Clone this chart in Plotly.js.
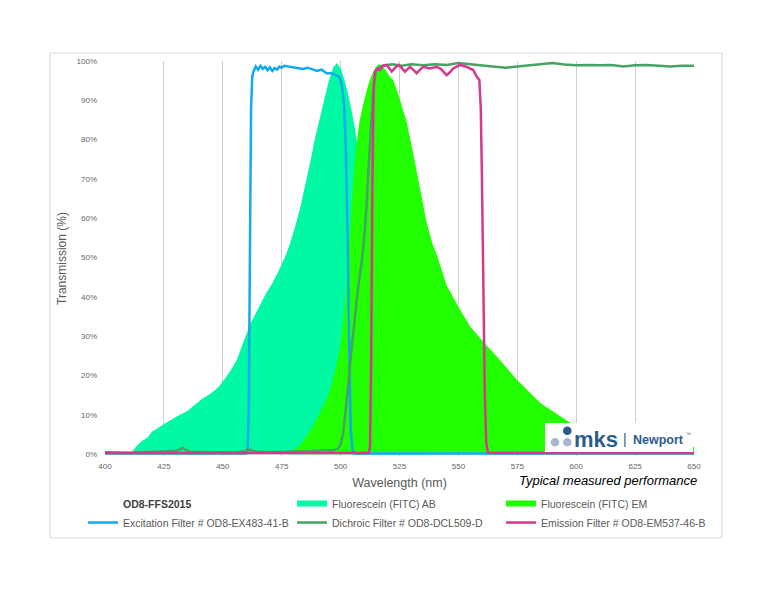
<!DOCTYPE html>
<html><head><meta charset="utf-8">
<script src="https://cdn.plot.ly/plotly-3.0.1.min.js"></script>
<style>html,body{margin:0;padding:0;background:#fff}#chart{width:776px;height:600px}</style>
</head><body><div id="chart"></div>
<script>
// ---- data (wavelength in nm, transmission in %) ----
const abNm  = [400,411,412,414,416,418,420,422,425,428,431,435,438,441,445,448,450,453,456,459,462,465,468,471,474,477,479,481,483,485,487,489,491,493,495,497,498.5,500,501.5,503,504.5,506,507.5,509,511,513,516,520,525,530,535,650];
const abPct = [0,0,1,2.5,3.5,4.2,5.8,6.5,7.7,8.7,9.8,11,12.5,14,15.5,17,18.5,21,24,29,33.5,37,40.5,43.5,47,51,54.5,58.5,63,68.5,74,80,85,90,95,98.5,99.5,98,95.5,92,88,83,77,65,48,33,17,6,1.5,0.3,0,0];

const emNm  = [400,478,480,483,486,489,491,494,496,498,500,502,503,504,505,506,507,508,510,512,514,516,517.5,519,521,522.5,525,528,531,533.7,536.5,539,541,545,550,555,560,567,575,585,597,600,610,620,630,640,650];
const emPct = [0,0,0.8,2.5,5,8,10.3,14,17.5,22,28,39,48,57,66,74,80,84.6,90,94.5,97.5,99.2,99,97.8,96,95,90.5,84.6,76,67.6,59,53.5,50.5,43,37.5,32.5,29,24.4,18.8,12.9,8.2,7.4,5.2,3.8,2.9,2.3,1.9];

const exNm  = [400,460,460.5,461,461.5,462,462.5,463,464,465,466,467,468,469,470,471,472,473,474,475,476,478,480,482,484,486,488,490,492,494,496,498,499.5,500.5,501.5,502.2,503,503.7,504.3,505,506,650];
const exPct = [0.2,0.2,1,10,50,88,96,97.3,98.6,97.8,98.8,98.0,98.5,97.6,98.4,97.5,98.2,97.8,98.6,98.3,98.8,98.6,98.5,98.2,98.0,98.3,97.8,97.5,97.8,96.9,96.9,96.4,96.0,94,89,78,55,25,6,1,0.2,0.2];

const dcNm  = [400,410,420,425,430,432,433,434,436,445,455,459,461,462,464,470,480,488,493,497,499,500,501,502,503,504,505,506,507,508,509,510,511,512,513,514,515,516,518,522,526,530,535,540,545,550,555,560,565,570,575,580,585,590,595,600,605,610,615,620,625,630,635,640,645,650];
const dcPct = [0.5,0.4,0.6,0.7,0.8,1.3,1.6,1.2,0.6,0.5,0.5,0.7,1.2,1.1,0.6,0.5,0.6,0.8,1.0,1.0,1.5,2.5,5,10,16,23,29,35,40,45,49,55,63,74,85,94,97.3,98.3,98.8,99.2,98.8,99.2,98.9,99.2,99.0,99.5,99.2,98.9,98.6,98.3,98.6,98.9,99.2,99.5,99.1,98.9,99.0,98.9,99.0,98.6,98.9,99.0,98.8,98.6,98.8,98.8];

const emfNm  = [400,512,512.5,513,513.5,514,514.5,515.3,516.7,518,519.6,520.7,521.7,523,524.5,526,527.3,528.5,529.5,531,532.3,533.7,535.1,538,540.8,542.5,543.6,545,546.5,547.8,550.7,553.5,556.3,557.8,558.9,559.5,560,560.6,561.2,561.8,562.5,563,650];
const emfPct = [0.3,0.3,2,25,70,92,97,98,97.7,98.8,99.0,98,97.3,98.2,99.0,98.2,97.3,98,98.5,97.7,96.9,97.8,98.5,98.1,98.5,98.0,97.3,96.4,97.2,98.1,99.0,98.5,97.7,96.0,95.2,88,70,40,15,3,0.5,0.3,0.3];

const xTicks = [400,425,450,475,500,525,550,575,600,625,650];
const yTicks = [0,10,20,30,40,50,60,70,80,90,100];
const yTickLabels = ['0%','10%','20%','30%','40%','50%','60%','70%','80%','90%','100%'];

const seriesNames = ['Fluorescein (FITC) AB','Fluorescein (FITC) EM','Excitation Filter # OD8-EX483-41-B','Dichroic Filter # OD8-DCL509-D','Emission Filter # OD8-EM537-46-B'];

// ---- geometry helpers (pixel -> paper) ----
const W=776, H=600, ML=105, MR=82, MT=61, MB=144;
const PW=W-ML-MR, PH=H-MT-MB;
const px = x => (x-ML)/PW;
const py = y => (H-MB-y)/PH;

const FONT = 'Liberation Sans, Arial, sans-serif';

const traces = [
  {x:[null], y:[null], type:'scatter', mode:'lines', line:{width:0,color:'rgba(0,0,0,0)'},
   name:'<b><span style="color:#404040">OD8-FFS2015</span></b>', hoverinfo:'skip'},
  {x:abNm, y:abPct, type:'scatter', mode:'none', fill:'tozeroy', fillcolor:'#00F9A2', name:seriesNames[0]},
  {x:emNm, y:emPct, type:'scatter', mode:'none', fill:'tozeroy', fillcolor:'#22FF00', name:seriesNames[1]},
  {x:exNm, y:exPct, type:'scatter', mode:'lines', line:{color:'#13A9EE', width:2.5}, name:seriesNames[2]},
  {x:dcNm, y:dcPct, type:'scatter', mode:'lines', line:{color:'#47A263', width:2.5}, name:seriesNames[3]},
  {x:emfNm, y:emfPct, type:'scatter', mode:'lines', line:{color:'#D6378F', width:2.5}, name:seriesNames[4]}
];

const logoBlue = '#2C5C8E';
const layout = {
  width:W, height:H,
  margin:{l:ML, r:MR, t:MT, b:MB},
  paper_bgcolor:'#ffffff', plot_bgcolor:'#ffffff',
  font:{family:FONT, color:'#595959'},
  showlegend:true,
  xaxis:{
    range:[400,650], tickvals:xTicks, ticks:'', showgrid:true, gridcolor:'#cfcfcf', gridwidth:1,
    zeroline:false, showline:false, tickfont:{size:8, color:'#666666'}, ticklabelstandoff:4,
    title:{text:'Wavelength (nm)', font:{size:12.5, color:'#595959'}, standoff:8}
  },
  yaxis:{
    range:[-0.45,100], tickmode:'array', tickvals:yTicks, ticktext:yTickLabels, ticks:'', showgrid:false, zeroline:false,
    showline:false, tickfont:{size:8, color:'#666666'}, ticklabelstandoff:7,
    title:{text:'Transmission (%)', font:{size:12, color:'#595959'}, standoff:7}
  },
  legend:{
    orientation:'h', x:px(83), xanchor:'left', y:py(489), yanchor:'top',
    entrywidth:164, entrywidthmode:'pixels', traceorder:'normal',
    font:{size:10.5, color:'#595959', family:FONT}, bgcolor:'rgba(0,0,0,0)'
  },
  shapes:[
    {type:'rect', xref:'paper', yref:'paper', x0:px(50), x1:px(722), y0:py(538), y1:py(53),
     line:{color:'#d9d9d9', width:1}, fillcolor:'rgba(0,0,0,0)', layer:'below'},
    {type:'rect', xref:'paper', yref:'paper', x0:px(545), x1:px(693), y0:py(452), y1:py(423),
     line:{width:0}, fillcolor:'#ffffff', layer:'above'},
    {type:'circle', xref:'paper', yref:'paper', x0:px(550.7), x1:px(559.3), y0:py(446.5), y1:py(437.9),
     line:{width:0}, fillcolor:'#A9B7CE', layer:'above'},
    {type:'circle', xref:'paper', yref:'paper', x0:px(563), x1:px(571.6), y0:py(446.5), y1:py(437.9),
     line:{width:0}, fillcolor:'#A9B7CE', layer:'above'},
    {type:'circle', xref:'paper', yref:'paper', x0:px(563), x1:px(571.6), y0:py(435), y1:py(426.4),
     line:{width:0}, fillcolor:logoBlue, layer:'above'}
  ],
  annotations:[
    {text:'<i>Typical measured performance</i>', xref:'paper', yref:'paper', x:px(699), y:py(481),
     xanchor:'right', yanchor:'middle', showarrow:false, font:{size:13, color:'#000000', family:FONT}},
    {text:'<b>mks</b>', xref:'paper', yref:'paper', x:px(572), y:py(439), xanchor:'left', yanchor:'middle',
     showarrow:false, font:{size:22, color:logoBlue, family:FONT}},
    {text:'|', xref:'paper', yref:'paper', x:px(625), y:py(439), xanchor:'center', yanchor:'middle',
     showarrow:false, font:{size:14, color:logoBlue, family:FONT}},
    {text:'<b>Newport</b>', xref:'paper', yref:'paper', x:px(631), y:py(440), xanchor:'left', yanchor:'middle',
     showarrow:false, font:{size:12.5, color:logoBlue, family:FONT}},
    {text:'™', xref:'paper', yref:'paper', x:px(684), y:py(434), xanchor:'left', yanchor:'middle',
     showarrow:false, font:{size:5, color:logoBlue, family:FONT}}
  ]
};

Plotly.newPlot('chart', traces, layout, {staticPlot:true, displayModeBar:false});
</script>
</body></html>
